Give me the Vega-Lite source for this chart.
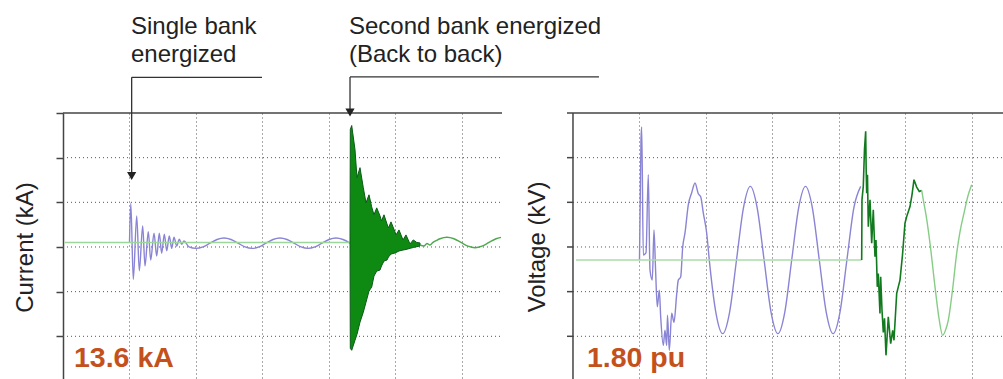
{
  "$schema": "https://vega.github.io/schema/vega-lite/v6.json",
  "width": 940,
  "height": 266,
  "autosize": {"type": "none"},
  "padding": {"left": 63, "top": 113, "right": 0, "bottom": 0},
  "background": "white",
  "config": {"view": {"stroke": null}, "font": "Liberation Sans"},
  "datasets": {
    "hgrid": [
      {"t": 0, "t2": 132.03, "v": -10}, {"t": 0, "t2": 132.03, "v": -5}, {"t": 0, "t2": 132.03, "v": 0}, {"t": 0, "t2": 132.03, "v": 5}, {"t": 0, "t2": 132.03, "v": 10},
      {"t": 153.38, "t2": 282.71, "v": -10}, {"t": 153.38, "t2": 282.71, "v": -5}, {"t": 153.38, "t2": 282.71, "v": 0}, {"t": 153.38, "t2": 282.71, "v": 5}, {"t": 153.38, "t2": 282.71, "v": 10}
    ],
    "frame": [
      {"t": 0, "t2": 132.03, "v": 15, "v2": 15},
      {"t": 151.58, "t2": 282.71, "v": 15, "v2": 15},
      {"t": 153.38, "t2": 153.38, "v": -14.78, "v2": 15},
      {"t": 151.58, "t2": 153.38, "v": 10, "v2": 10},
      {"t": 151.58, "t2": 153.38, "v": 5, "v2": 5},
      {"t": 151.58, "t2": 153.38, "v": 0, "v2": 0},
      {"t": 151.58, "t2": 153.38, "v": -5, "v2": -5},
      {"t": 151.58, "t2": 153.38, "v": -10, "v2": -10}
    ],
    "annot": [
      {"t": 20.65, "t2": 59.85, "v": 18.99, "v2": 18.99},
      {"t": 20.65, "t2": 20.65, "v": 18.99, "v2": 8.2},
      {"t": 86.32, "t2": 161.2, "v": 19.04, "v2": 19.04},
      {"t": 86.32, "t2": 86.32, "v": 19.04, "v2": 15.3}
    ],
    "arrows": [{"t": 20.65, "v": 7.94}, {"t": 86.32, "v": 15.06}],
    "annText": [
      {"t": 20.45, "v": 23.9, "label": "Single bank\nenergized"},
      {"t": 86.02, "v": 23.9, "label": "Second bank energized\n(Back to back)"}
    ],
    "valueText": [
      {"t": 3.31, "v": -13.45, "label": "13.6 kA"},
      {"t": 157.59, "v": -13.45, "label": "1.80 pu"}
    ],
    "voltTitle": [{"t": 145.1, "v": 0, "label": "Voltage (kV)"}],
    "curPurple": [
      {"t":20.00,"v":0.51},{"t":20.39,"v":4.91},{"t":21.14,"v":-3.63},{"t":22.17,"v":3.48},{"t":22.95,"v":-2.66},{"t":23.97,"v":2.36},{"t":24.66,"v":-2.13},{"t":25.65,"v":1.72},{"t":26.38,"v":-1.46},{"t":27.37,"v":1.54},{"t":28.18,"v":-1.01},{"t":28.96,"v":1.54},{"t":29.68,"v":-0.71},{"t":30.47,"v":1.43},{"t":31.19,"v":-0.42},{"t":31.97,"v":1.24},{"t":32.69,"v":-0.15},{"t":33.38,"v":1.09},{"t":34.20,"v":0.11},{"t":34.98,"v":0.87},{"t":35.70,"v":0.30},{"t":36.39,"v":0.67},{"t":37.89,"v":0.01},{"t":40.00,"v":-0.16},{"t":42.11,"v":0.01},{"t":44.21,"v":0.43},{"t":46.32,"v":0.84},{"t":48.42,"v":1.01},{"t":50.53,"v":0.84},{"t":52.63,"v":0.43},{"t":54.74,"v":0.01},{"t":56.84,"v":-0.16},{"t":58.95,"v":0.01},{"t":61.05,"v":0.43},{"t":63.16,"v":0.84},{"t":65.26,"v":1.01},{"t":67.37,"v":0.84},{"t":69.47,"v":0.43},{"t":71.58,"v":0.01},{"t":73.68,"v":-0.16},{"t":75.79,"v":0.01},{"t":77.89,"v":0.43},{"t":80.00,"v":0.84},{"t":82.11,"v":1.01},{"t":84.21,"v":0.84},{"t":86.32,"v":0.43}
    ],
    "curGreenFlat": [{"t": 0.5, "v": 0.51}, {"t": 86.32, "v": 0.51}],
    "curBurst": [
      {"t":86.32,"v":0.5,"v2":0.5},{"t":86.41,"v":13.15,"v2":-11.35},{"t":86.83,"v":13.60,"v2":-11.57},{"t":87.82,"v":10.90,"v2":-10.45},{"t":88.42,"v":7.75,"v2":-9.78},{"t":89.32,"v":8.88,"v2":-8.43},{"t":90.32,"v":6.63,"v2":-7.30},{"t":91.13,"v":4.94,"v2":-6.18},{"t":92.03,"v":5.84,"v2":-4.94},{"t":92.84,"v":4.49,"v2":-4.49},{"t":93.53,"v":3.60,"v2":-3.26},{"t":94.35,"v":4.38,"v2":-2.70},{"t":95.34,"v":3.48,"v2":-2.58},{"t":95.79,"v":2.92,"v2":-2.13},{"t":96.54,"v":3.60,"v2":-1.57},{"t":97.44,"v":2.58,"v2":-1.46},{"t":97.89,"v":2.13,"v2":-1.12},{"t":98.65,"v":2.81,"v2":-0.79},{"t":99.85,"v":1.69,"v2":-0.67},{"t":100.15,"v":1.35,"v2":-0.62},{"t":101.05,"v":1.91,"v2":-0.45},{"t":102.26,"v":0.79,"v2":-0.34},{"t":103.16,"v":1.35,"v2":-0.28},{"t":104.36,"v":0.34,"v2":-0.15},{"t":105.35,"v":0.79,"v2":-0.06},{"t":106.38,"v":0.51,"v2":0.03},{"t":107.37,"v":0.45,"v2":0.11}
    ],
    "curGreenTail": [
      {"t":107.37,"v":0.22},{"t":108.57,"v":0.11},{"t":109.47,"v":0.39},{"t":110.38,"v":0.22},{"t":111.28,"v":0.51},{"t":112.33,"v":0.73},{"t":113.38,"v":0.92},{"t":115.49,"v":1.09},{"t":117.59,"v":0.92},{"t":119.70,"v":0.51},{"t":121.80,"v":0.09},{"t":123.91,"v":-0.08},{"t":126.02,"v":0.09},{"t":128.12,"v":0.51},{"t":130.23,"v":0.92},{"t":131.73,"v":1.07}
    ],
    "voltPurple": [
      {"t":173.38,"v":-1.46},{"t":173.83,"v":12.02},{"t":174.05,"v":13.45},{"t":174.53,"v":-0.90},{"t":175.34,"v":-0.67},{"t":176.03,"v":8.09},{"t":176.54,"v":-2.58},{"t":177.23,"v":-3.71},{"t":177.74,"v":1.91},{"t":178.20,"v":-2.36},{"t":178.74,"v":-6.71},{"t":179.34,"v":-4.83},{"t":179.76,"v":-7.83},{"t":180.54,"v":-11.01},{"t":181.05,"v":-9.33},{"t":181.56,"v":-11.01},{"t":181.80,"v":-7.64},{"t":182.35,"v":-11.57},{"t":183.07,"v":-7.42},{"t":183.76,"v":-8.43},{"t":184.57,"v":-5.28},{"t":185.05,"v":-3.71},{"t":185.77,"v":-3.37},{"t":186.38,"v":0.00},{"t":187.07,"v":1.57},{"t":188.06,"v":4.72},{"t":189.08,"v":6.07},{"t":190.08,"v":7.16},{"t":191.07,"v":5.96},{"t":191.79,"v":5.62},{"t":192.57,"v":3.82},{"t":193.59,"v":1.57},{"t":194.44,"v":-1.69},{"t":196.33,"v":-7.28},{"t":198.41,"v":-9.70},{"t":200.49,"v":-7.28},{"t":202.56,"v":-1.46},{"t":204.64,"v":4.36},{"t":206.71,"v":6.78},{"t":208.79,"v":4.36},{"t":210.86,"v":-1.46},{"t":212.94,"v":-7.28},{"t":215.01,"v":-9.70},{"t":217.09,"v":-7.28},{"t":219.16,"v":-1.46},{"t":221.24,"v":4.36},{"t":223.31,"v":6.78},{"t":225.39,"v":4.36},{"t":227.46,"v":-1.46},{"t":229.54,"v":-7.28},{"t":231.61,"v":-9.70},{"t":233.69,"v":-7.28},{"t":235.76,"v":-1.46},{"t":237.84,"v":4.36},{"t":239.91,"v":6.78}
    ],
    "voltGreenFlat": [{"t": 154.3, "v": -1.46}, {"t": 240.21, "v": -1.46}],
    "voltGreenDark": [
      {"t":240.21,"v":-1.46},{"t":240.30,"v":5.28},{"t":240.69,"v":6.78},{"t":241.05,"v":10.90},{"t":241.41,"v":12.96},{"t":241.56,"v":8.65},{"t":241.71,"v":6.03},{"t":241.95,"v":8.09},{"t":242.20,"v":2.28},{"t":242.71,"v":5.28},{"t":243.22,"v":0.42},{"t":243.70,"v":4.16},{"t":244.21,"v":-1.09},{"t":244.51,"v":0.79},{"t":244.90,"v":-4.46},{"t":245.20,"v":-2.96},{"t":245.71,"v":-7.45},{"t":245.92,"v":-3.34},{"t":246.32,"v":-7.08},{"t":246.71,"v":-9.57},{"t":247.07,"v":-7.98},{"t":247.52,"v":-12.13},{"t":248.21,"v":-7.83},{"t":248.93,"v":-10.82},{"t":249.53,"v":-9.33},{"t":249.92,"v":-10.45},{"t":250.74,"v":-5.20},{"t":251.22,"v":-4.46},{"t":251.73,"v":-3.71},{"t":252.48,"v":-0.90},{"t":253.23,"v":2.66},{"t":253.74,"v":3.40},{"t":254.74,"v":4.53},{"t":255.34,"v":5.84},{"t":255.94,"v":7.53},{"t":256.75,"v":6.71},{"t":257.53,"v":6.21},{"t":258.26,"v":6.33}
    ],
    "voltGreenLight": [
      {"t":258.26,"v":6.33},{"t":258.74,"v":5.28},{"t":259.70,"v":3.26},{"t":260.75,"v":0.42},{"t":262.26,"v":-4.46},{"t":263.46,"v":-7.98},{"t":264.57,"v":-9.89},{"t":265.41,"v":-9.33},{"t":266.26,"v":-8.20},{"t":267.52,"v":-4.83},{"t":268.78,"v":-0.71},{"t":269.77,"v":1.69},{"t":270.98,"v":3.79},{"t":272.18,"v":5.73},{"t":273.29,"v":6.97}
    ]
  },
  "encoding": {
    "x": {
      "field": "t", "type": "quantitative",
      "scale": {"domain": [0, 282.71], "nice": false, "zero": false},
      "axis": {"values": [20, 40, 60, 80, 100, 120, 173.38, 193.38, 213.38, 233.38, 253.38, 273.38], "grid": true, "gridDash": [1, 3], "gridColor": "#555", "gridWidth": 1, "domain": false, "ticks": false, "labels": false, "title": null}
    },
    "y": {
      "field": "v", "type": "quantitative",
      "scale": {"domain": [-14.78, 15], "nice": false, "zero": false},
      "axis": {"values": [-10, -5, 0, 5, 10, 15], "grid": false, "domain": true, "domainColor": "#444", "domainWidth": 1.5, "ticks": true, "tickSize": 7, "tickColor": "#444", "tickWidth": 1.5, "labels": false, "title": "Current (kA)", "titleFont": "Liberation Sans", "titleFontSize": 24, "titleFontWeight": "normal", "titleColor": "#222", "titleAngle": 270, "titleX": -31, "titleY": 134, "titleAlign": "center", "titleBaseline": "alphabetic"}
    }
  },
  "layer": [
    {"data": {"name": "hgrid"}, "mark": {"type": "rule", "strokeDash": [1, 3], "color": "#555", "strokeWidth": 1}, "encoding": {"x2": {"field": "t2"}}},
    {"data": {"name": "frame"}, "mark": {"type": "rule", "color": "#444", "strokeWidth": 1.5}, "encoding": {"x2": {"field": "t2"}, "y2": {"field": "v2"}}},
    {"data": {"name": "curPurple"}, "mark": {"type": "line", "color": "#8a84d4", "strokeWidth": 1.4, "interpolate": "monotone"}},
    {"data": {"name": "curGreenFlat"}, "mark": {"type": "line", "color": "#9bd69b", "strokeWidth": 1.6}},
    {"data": {"name": "curBurst"}, "mark": {"type": "area", "fill": "#0e8a12", "stroke": "#0b5a18", "strokeWidth": 1, "fillOpacity": 1}, "encoding": {"y2": {"field": "v2"}}},
    {"data": {"name": "curGreenTail"}, "mark": {"type": "line", "color": "#4ea84e", "strokeWidth": 1.4, "interpolate": "monotone"}},
    {"data": {"name": "voltPurple"}, "mark": {"type": "line", "color": "#8a84d4", "strokeWidth": 1.4, "interpolate": "monotone"}},
    {"data": {"name": "voltGreenFlat"}, "mark": {"type": "line", "color": "#a8dca8", "strokeWidth": 1.6}},
    {"data": {"name": "voltGreenDark"}, "mark": {"type": "line", "color": "#127a1e", "strokeWidth": 1.6}},
    {"data": {"name": "voltGreenLight"}, "mark": {"type": "line", "color": "#86cc86", "strokeWidth": 1.4, "interpolate": "monotone"}},
    {"data": {"name": "annot"}, "mark": {"type": "rule", "color": "#333", "strokeWidth": 1.3}, "encoding": {"x2": {"field": "t2"}, "y2": {"field": "v2"}}},
    {"data": {"name": "arrows"}, "mark": {"type": "point", "shape": "triangle-down", "filled": true, "color": "#222", "size": 85, "opacity": 1}},
    {"data": {"name": "annText"}, "mark": {"type": "text", "align": "left", "baseline": "alphabetic", "fontSize": 24, "font": "Liberation Sans", "color": "#222", "lineBreak": "\n", "lineHeight": 28.5}, "encoding": {"text": {"field": "label"}}},
    {"data": {"name": "valueText"}, "mark": {"type": "text", "align": "left", "baseline": "alphabetic", "fontSize": 28.5, "fontWeight": "bold", "font": "Liberation Sans", "color": "#c4511c"}, "encoding": {"text": {"field": "label"}}},
    {"data": {"name": "voltTitle"}, "mark": {"type": "text", "align": "center", "baseline": "alphabetic", "angle": 270, "fontSize": 24, "font": "Liberation Sans", "color": "#222"}, "encoding": {"text": {"field": "label"}}}
  ]
}
